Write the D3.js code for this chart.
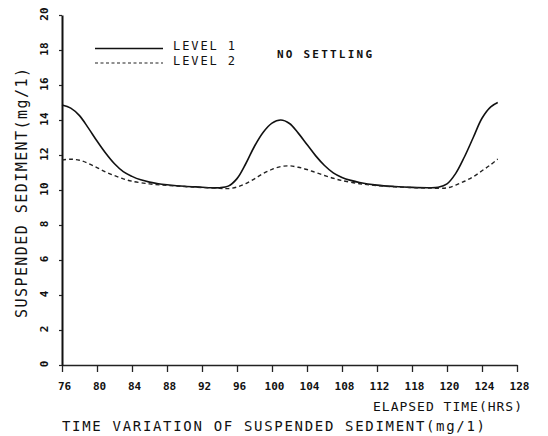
<!DOCTYPE html>
<html>
<head>
<meta charset="utf-8">
<script src="https://cdn.jsdelivr.net/npm/d3@7"></script>
<style>
  body { margin: 0; background: #fff; }
  svg text { font-family: "DejaVu Sans Mono", monospace; fill: #111; }
  .tick-label { font-size: 11px; font-weight: bold; }
</style>
</head>
<body>
<div class="chart"></div>
<script>
var svgWidth = 548;
var svgHeight = 436;

// hours (x) and suspended sediment (mg/l)
var level1Hours = [76, 77, 78, 79, 80, 81, 82, 83, 84, 85, 86, 87, 88, 90, 92, 93, 94, 95, 96, 97, 98, 99, 100, 101, 102, 103, 104, 105, 106, 107, 108, 109, 110, 112, 114, 116, 118, 119, 120, 121, 122, 123, 124, 125, 125.8];
var level1Values = [14.86, 14.68, 14.25, 13.55, 12.8, 12.1, 11.5, 11.05, 10.78, 10.58, 10.45, 10.36, 10.3, 10.21, 10.16, 10.13, 10.13, 10.22, 10.65, 11.5, 12.5, 13.3, 13.82, 14.0, 13.8, 13.25, 12.6, 11.95, 11.4, 10.98, 10.72, 10.55, 10.43, 10.28, 10.2, 10.15, 10.13, 10.16, 10.35, 10.95, 11.9, 13.0, 14.1, 14.75, 15.0];

var level2Hours = [76, 77, 78, 79, 80, 81, 82, 83, 84, 86, 88, 90, 92, 94, 95, 96, 97, 98, 99, 100, 101, 102, 103, 104, 105, 106, 107, 108, 110, 112, 114, 116, 118, 120, 121, 122, 123, 124, 125, 125.8];
var level2Values = [11.71, 11.76, 11.7, 11.52, 11.28, 11.03, 10.82, 10.64, 10.5, 10.35, 10.26, 10.2, 10.14, 10.1, 10.08, 10.17, 10.37, 10.64, 10.94, 11.18, 11.34, 11.38, 11.3, 11.17, 11.0, 10.83, 10.67, 10.54, 10.36, 10.25, 10.18, 10.14, 10.11, 10.12, 10.28, 10.5, 10.76, 11.1, 11.45, 11.77];

var xTicks = [76, 80, 84, 88, 92, 96, 100, 104, 108, 112, 116, 120, 124, 128];
var xTickLabels = ["76", "80", "84", "88", "92", "96", "100", "104", "108", "112", "118", "120", "124", "128"];
var yTicks = [0, 2, 4, 6, 8, 10, 12, 14, 16, 18, 20];
var yTickLabels = ["0", "2", "4", "6", "8", "10", "12", "14", "16", "18", "20"];

var svg = d3.select(".chart")
  .append("svg")
  .attr("width", svgWidth)
  .attr("height", svgHeight);

var x = d3.scaleLinear().domain([76, 128]).range([62, 517]);
var y = d3.scaleLinear().domain([0, 20]).range([365, 15]);

// axes
var bottomAxis = d3.axisBottom(x)
  .tickValues(xTicks)
  .tickSize(7)
  .tickSizeOuter(0)
  .tickFormat((d, i) => xTickLabels[i]);

var leftAxis = d3.axisLeft(y)
  .tickValues(yTicks)
  .tickSize(3)
  .tickSizeOuter(0)
  .tickFormat("");

var xAxisG = svg.append("g")
  .attr("transform", `translate(0, ${y(0)})`)
  .call(bottomAxis);
xAxisG.select(".domain").attr("stroke", "#222").attr("stroke-width", 1.4);
xAxisG.selectAll(".tick line").attr("stroke", "#222").attr("stroke-width", 1.3);
xAxisG.selectAll(".tick text")
  .attr("class", "tick-label")
  .attr("y", 17)
  .attr("dx", 2)
  .attr("font-family", null)
  .attr("font-size", null);

var yAxisG = svg.append("g")
  .attr("transform", `translate(${x(76)}, 0)`)
  .call(leftAxis);
yAxisG.select(".domain").attr("stroke", "#111").attr("stroke-width", 2);
yAxisG.selectAll(".tick line").attr("stroke", "#222").attr("stroke-width", 1.2);

// rotated y tick labels
svg.append("g").selectAll("text")
  .data(yTicks)
  .enter()
  .append("text")
  .attr("class", "tick-label")
  .attr("transform", d => `translate(48, ${y(d) - 1}) rotate(-90)`)
  .attr("text-anchor", "middle")
  .text((d, i) => yTickLabels[i]);

// lines
var line = d3.line()
  .x(d => x(d[0]))
  .y(d => y(d[1]))
  .curve(d3.curveCatmullRom);

svg.append("path")
  .datum(d3.zip(level1Hours, level1Values))
  .attr("fill", "none")
  .attr("stroke", "#111")
  .attr("stroke-width", 1.6)
  .attr("d", line);

svg.append("path")
  .datum(d3.zip(level2Hours, level2Values))
  .attr("fill", "none")
  .attr("stroke", "#222")
  .attr("stroke-width", 1.4)
  .attr("stroke-dasharray", "4,3")
  .attr("d", line);

// legend
svg.append("line")
  .attr("x1", 95).attr("x2", 163).attr("y1", 48.5).attr("y2", 48.5)
  .attr("stroke", "#111").attr("stroke-width", 1.3);
svg.append("line")
  .attr("x1", 95).attr("x2", 163).attr("y1", 63).attr("y2", 63)
  .attr("stroke", "#222").attr("stroke-width", 1.2)
  .attr("stroke-dasharray", "3,2.5");

svg.append("text")
  .attr("x", 173).attr("y", 50)
  .attr("font-size", 12)
  .attr("textLength", 62).attr("lengthAdjust", "spacing")
  .text("LEVEL 1");
svg.append("text")
  .attr("x", 173).attr("y", 65)
  .attr("font-size", 12)
  .attr("textLength", 62).attr("lengthAdjust", "spacing")
  .text("LEVEL 2");
svg.append("text")
  .attr("x", 277).attr("y", 58)
  .attr("font-size", 11)
  .attr("font-weight", "bold")
  .attr("textLength", 95).attr("lengthAdjust", "spacing")
  .text("NO SETTLING");

// axis titles
svg.append("text")
  .attr("transform", "translate(27, 318) rotate(-90)")
  .attr("font-size", 15)
  .attr("textLength", 250).attr("lengthAdjust", "spacing")
  .text("SUSPENDED SEDIMENT(mg/1)");

svg.append("text")
  .attr("x", 373).attr("y", 411)
  .attr("font-size", 13)
  .attr("textLength", 149).attr("lengthAdjust", "spacing")
  .text("ELAPSED TIME(HRS)");

svg.append("text")
  .attr("x", 62).attr("y", 431)
  .attr("font-size", 14)
  .attr("textLength", 423).attr("lengthAdjust", "spacing")
  .text("TIME VARIATION OF SUSPENDED SEDIMENT(mg/1)");
</script>
</body>
</html>
